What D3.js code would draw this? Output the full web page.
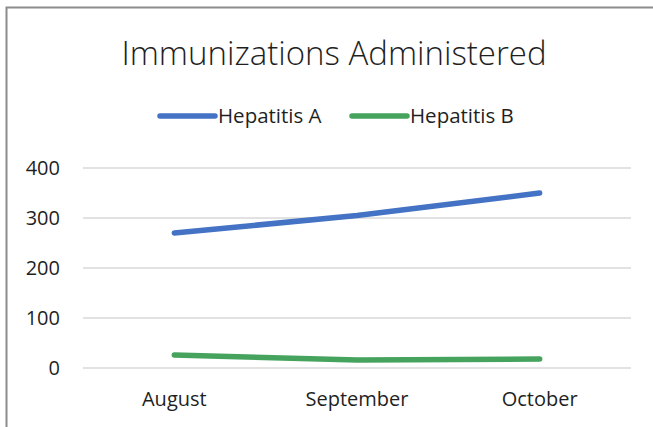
<!DOCTYPE html>
<html>
<head>
<meta charset="utf-8">
<script src="https://cdn.jsdelivr.net/npm/d3@7"></script>
<style>
  body { margin: 0; background: #fff; }
  svg text { font-family: "Segoe UI", "Open Sans", sans-serif; fill: #1f1f1f; }
</style>
</head>
<body>
<svg id="chart" width="653" height="427"></svg>
<script>
// data
const months = ["August", "September", "October"];
const hepA = [270, 305, 350];
const hepB = [26, 16, 18];
const seriesNames = ["Hepatitis A", "Hepatitis B"];
const colors = ["#4472C4", "#46A35E"];
const yTicks = [0, 100, 200, 300, 400];

const svg = d3.select("#chart");

// chart frame
svg.append("rect")
  .attr("x", 6.5).attr("y", 7.5)
  .attr("width", 660).attr("height", 440)
  .attr("fill", "#fff").attr("stroke", "#8c8c8c").attr("stroke-width", 2);

const margin = { left: 83, right: 22, top: 168, bottom: 59 };
const innerW = 653 - margin.left - margin.right;
const innerH = 427 - margin.top - margin.bottom;

const g = svg.append("g").attr("transform", `translate(${margin.left},${margin.top})`);

const xScale = d3.scaleBand().domain(months).range([0, innerW]);
const yScale = d3.scaleLinear().domain([0, 400]).range([innerH, 0]);

// gridlines
g.selectAll(".grid").data(yTicks).enter().append("line")
  .attr("class", "grid")
  .attr("x1", 0).attr("x2", innerW)
  .attr("y1", d => yScale(d)).attr("y2", d => yScale(d))
  .attr("stroke", "#d9d9d9").attr("stroke-width", 1.5);

// y labels
g.selectAll(".ylab").data(yTicks).enter().append("text")
  .attr("class", "ylab")
  .attr("x", -23).attr("y", d => yScale(d))
  .attr("dy", "0.35em")
  .attr("text-anchor", "end")
  .attr("font-size", 20)
  .text(d => d);

// x labels
g.selectAll(".xlab").data(months).enter().append("text")
  .attr("class", "xlab")
  .attr("x", d => xScale(d) + xScale.bandwidth() / 2)
  .attr("y", innerH + 38)
  .attr("text-anchor", "middle")
  .attr("font-size", 20)
  .text(d => d);

// lines
const series = [hepA, hepB];
const line = d3.line()
  .x((d, i) => xScale(months[i]) + xScale.bandwidth() / 2)
  .y(d => yScale(d));

g.selectAll(".series").data(series).enter().append("path")
  .attr("class", "series")
  .attr("d", d => line(d))
  .attr("fill", "none")
  .attr("stroke", (d, i) => colors[i])
  .attr("stroke-width", 5.5)
  .attr("stroke-linecap", "round")
  .attr("stroke-linejoin", "round");

// title
svg.append("text")
  .attr("x", 334).attr("y", 65)
  .attr("text-anchor", "middle")
  .attr("font-size", 33)
  .attr("font-weight", 300)
  .text("Immunizations Administered");

// legend
const legendX = [160, 352];
const legend = svg.selectAll(".legend").data(seriesNames).enter().append("g")
  .attr("class", "legend")
  .attr("transform", (d, i) => `translate(${legendX[i]},116)`);
legend.append("line")
  .attr("x1", 0).attr("x2", 55)
  .attr("stroke", (d, i) => colors[i])
  .attr("stroke-width", 5.5)
  .attr("stroke-linecap", "round");
legend.append("text")
  .attr("x", 58).attr("dy", "0.35em")
  .attr("font-size", 20.5)
  .text(d => d);
</script>
</body>
</html>
